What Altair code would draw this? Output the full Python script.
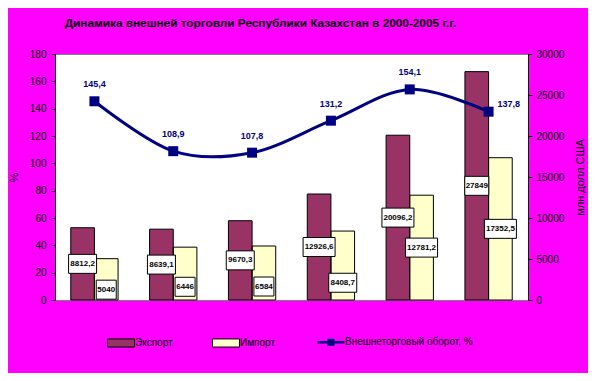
import altair as alt
import pandas as pd

years = ["2000", "2001", "2002", "2003", "2004", "2005"]
export = [8812.2, 8639.1, 9670.3, 12926.6, 20096.2, 27849]
imports = [5040, 6446, 6584, 8408.7, 12781.2, 17352.5]
turnover = [145.4, 108.9, 107.8, 131.2, 154.1, 137.8]
series_names = ["Экспорт", "Импорт", "Внешнеторговый оборот, %"]
colors = ["#993366", "#FFFFCC", "#000080"]
left_ticks = list(range(0, 181, 20))
right_ticks = list(range(0, 30001, 5000))

FONT = "Liberation Sans"
LINE_NAME = series_names[2]

bars_df = pd.DataFrame({
    "year": years * 2,
    "series": [series_names[0]] * 6 + [series_names[1]] * 6,
    "value": export + imports,
    "exp": export * 2,
})
line_df = pd.DataFrame({"year": years, "pct": turnover})

x_scale = alt.Scale(type="band", paddingInner=0.4, paddingOuter=0.2)
x_enc = alt.X("year:N", scale=x_scale, axis=None)
xoff = alt.XOffset("series:N", scale=alt.Scale(domain=series_names[:2], paddingInner=0, paddingOuter=0))
y_right_scale = alt.Scale(domain=[0, 30000], nice=False, zero=True)
y_left_scale = alt.Scale(domain=[0, 180], nice=False, zero=True)

sym_expr = ("datum.label == '" + LINE_NAME + "' ? 'M-1,0H1M-0.17,-0.17H0.17V0.17H-0.17Z' : 'M-1,-0.3H1V0.3H-1Z'")
stroke_expr = "datum.label == '" + LINE_NAME + "' ? '#000080' : 'black'"
width_expr = "datum.label == '" + LINE_NAME + "' ? 2.5 : 1"

base_bars = alt.Chart(bars_df)

bars = base_bars.mark_bar(opacity=1).encode(
    x=alt.X("year:N", scale=x_scale, axis=alt.Axis(
        orient="bottom", title=None, labelFontSize=12, labelColor="black", labelFont=FONT,
        labelAngle=0, tickBand="extent", tickSize=5, tickColor="black", domainColor="black",
        labelPadding=8, grid=False)),
    xOffset=xoff,
    y=alt.Y("value:Q", scale=y_right_scale, axis=alt.Axis(
        orient="right", values=right_ticks, format="d", title="млн.долл.США", titleAngle=270,
        titleX=52, titleY=123, titleAlign="center", titleBaseline="middle",
        titleFontSize=11, titleFontWeight="normal", titleFont=FONT, titleColor="black",
        labelFontSize=10, labelFont=FONT, labelColor="black", tickSize=4, tickColor="black",
        domainColor="black", labelPadding=4, grid=False)),
    color=alt.Color("series:N", scale=alt.Scale(domain=series_names, range=colors),
                    legend=alt.Legend(
                        orient="none", legendX=61, legendY=283, direction="horizontal",
                        title=None, padding=0, symbolSize=729,
                        symbolType=alt.ExprRef(expr=sym_expr),
                        symbolStrokeColor=alt.ExprRef(expr=stroke_expr),
                        symbolStrokeWidth=alt.ExprRef(expr=width_expr),
                        symbolOpacity=1, labelFont=FONT, labelFontSize=10,
                        labelColor="black", labelOffset=9, columnPadding=37)),
)

outlines = base_bars.mark_bar(fillOpacity=0, stroke="black", strokeWidth=1).encode(
    x=x_enc, xOffset=xoff,
    y=alt.Y("value:Q", scale=y_right_scale, axis=None),
)

label_base = base_bars.transform_calculate(
    label="replace(toString(datum.value), '.', ',')",
    ly="datum.series == '" + series_names[0] + "' ? datum.value / 2 : ((datum.exp - datum.value) / 2 < 2500 ? datum.value / 4 : datum.value / 2)",
).transform_calculate(
    w="(length(datum.label) * 4 + 4) / 20",
).transform_calculate(
    box="'M' + (-datum.w) + ',-0.95H' + datum.w + 'V0.95H' + (-datum.w) + 'Z'",
)

boxes = label_base.mark_point(filled=True, fill="white", stroke="black", strokeWidth=1,
                              opacity=1, size=400).encode(
    x=x_enc, xOffset=xoff,
    y=alt.Y("ly:Q", scale=y_right_scale, axis=None),
    shape=alt.Shape("box:N", scale=None, legend=None),
)

box_text = label_base.mark_text(font=FONT, fontSize=8, fontWeight="bold", color="black",
                                baseline="middle", align="center").encode(
    x=x_enc, xOffset=xoff,
    y=alt.Y("ly:Q", scale=y_right_scale, axis=None),
    text="label:N",
)

base_line = alt.Chart(line_df).transform_calculate(
    label="replace(toString(datum.pct), '.', ',')")

line = base_line.mark_line(interpolate="cardinal", strokeWidth=3, color="#000080").encode(
    x=x_enc,
    y=alt.Y("pct:Q", scale=y_left_scale, axis=alt.Axis(
        orient="left", values=left_ticks, title="%", titleX=-41, titleY=123,
        titleAlign="center", titleBaseline="middle", titleFontSize=11,
        titleFontWeight="normal", titleFont=FONT, titleColor="black",
        labelFontSize=10, labelFont=FONT, labelColor="black", tickSize=4,
        tickColor="black", domainColor="black", labelPadding=5, grid=False)),
)

points = base_line.mark_point(shape="square", filled=True, size=100, color="#000080", opacity=1).encode(
    x=x_enc,
    y=alt.Y("pct:Q", scale=y_left_scale, axis=None),
)

line_labels = base_line.transform_filter("datum.year != '2005'").mark_text(
    font=FONT, fontSize=9, fontWeight="bold", color="#000080", dy=-17,
    baseline="middle", align="center").encode(
    x=x_enc,
    y=alt.Y("pct:Q", scale=y_left_scale, axis=None),
    text="label:N",
)

last_label = base_line.transform_filter("datum.year == '2005'").mark_text(
    font=FONT, fontSize=9, fontWeight="bold", color="#000080", dx=9, dy=-8,
    baseline="middle", align="left").encode(
    x=x_enc,
    y=alt.Y("pct:Q", scale=y_left_scale, axis=None),
    text="label:N",
)

chart = alt.layer(
    bars, outlines, boxes, box_text, line, points, line_labels, last_label
).resolve_scale(
    y="independent"
).properties(
    width=473, height=246,
    padding={"left": 47, "top": 46, "right": 60, "bottom": 73},
    autosize=alt.AutoSizeParams(type="none"),
    background="#FF00FF",
    title=alt.TitleParams(
        "Динамика внешней торговли Республики Казахстан в 2000-2005 г.г.",
        font=FONT, fontSize=11.8, fontWeight="bold", color="black",
        anchor="middle", frame="group", dx=-31, offset=10, baseline="alphabetic"),
).configure_view(
    fill="white", stroke="#808080", strokeWidth=1
)

chart.save("out.html", embed_options={"renderer": "svg", "actions": False})
